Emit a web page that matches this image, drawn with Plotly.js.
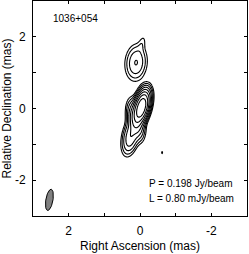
<!DOCTYPE html>
<html><head><meta charset="utf-8">
<script src="https://cdn.plot.ly/plotly-3.0.1.min.js"></script>
<style>html,body{margin:0;padding:0;background:#fff}#c{width:249px;height:254px}</style>
</head><body><div id="c"></div>
<script>
// Source name and map statistics
const sourceName = "1036+054";
const peakFlux = 0.198;      // Jy/beam
const lowestLevel = 0.80;    // mJy/beam
const nLevels = 8;           // contour levels L*2^n, n=0..7

// Gaussian model components (mas, mJy/beam, deg)
const compRA   = [-0.04, 0.12, 0.26, 0.11, -0.05, -0.62];
const compDec  = [ 0.03, -0.32, -0.77, 1.28, 1.80, -1.23];
const compPeak = [198, 22, 12, 6.6, 1.1, 0.85];
const compMaj  = [0.52, 0.60, 0.60, 0.60, 0.40, 0.20];
const compMin  = [0.22, 0.25, 0.26, 0.36, 0.15, 0.08];
const compPA   = [-15, 10, -12, -5, -15, 0];

// Restoring beam
const beamRA = [2.54], beamDec = [-2.55], beamMaj = [0.6], beamMin = [0.2], beamPA = [-10];

// Axis ticks
const tickVals = [-3, -2, -1, 0, 1, 2, 3];
const tickText = ["", "-2", "", "0", "", "2", ""];

// Build grid
const gx = [], gy = [];
for (let i = 0; i <= 300; i++) gx.push(-1.5 + i * 0.01);
for (let j = 0; j <= 420; j++) gy.push(-1.8 + j * 0.01);
const k = 4 * Math.log(2);
const z = gy.map(y => gx.map(x => {
  let s = 0;
  for (let c = 0; c < compRA.length; c++) {
    const pa = compPA[c] * Math.PI / 180;
    const dx = x - compRA[c], dy = y - compDec[c];
    const u = dx * Math.sin(pa) + dy * Math.cos(pa);
    const v = dx * Math.cos(pa) - dy * Math.sin(pa);
    s += compPeak[c] * Math.exp(-k * (u * u / (compMaj[c] ** 2) + v * v / (compMin[c] ** 2)));
  }
  return Math.log2(Math.max(s, 1e-6) / lowestLevel);
}));

// Beam ellipse
const bx = [], by = [];
for (let i = 0; i <= 72; i++) {
  const t = i / 72 * 2 * Math.PI;
  const a = beamMaj[0] / 2, b = beamMin[0] / 2, pa = beamPA[0] * Math.PI / 180;
  const u = a * Math.cos(t), v = b * Math.sin(t);
  bx.push(beamRA[0] + u * Math.sin(pa) + v * Math.cos(pa));
  by.push(beamDec[0] + u * Math.cos(pa) - v * Math.sin(pa));
}

const font = {family: "Liberation Sans, Arial, sans-serif", size: 12, color: "#000"};
const data = [
  {type: "contour", x: gx, y: gy, z: z, showscale: false, hoverinfo: "skip",
   autocontour: false, contours: {start: 0, end: nLevels - 1, size: 1, coloring: "none"},
   line: {color: "#000", width: 1.1, smoothing: 1}},
  {type: "scatter", mode: "lines", x: bx, y: by, fill: "toself", fillcolor: "#808080",
   line: {color: "#000", width: 1}, hoverinfo: "skip"}
];
const axis = {
  showline: true, mirror: "ticks", linecolor: "#000", linewidth: 1,
  ticks: "inside", ticklen: 3, tickcolor: "#000", tickmode: "array",
  tickvals: tickVals, ticktext: tickText, zeroline: false, showgrid: false,
  tickfont: font
};
const layout = {
  width: 249, height: 254, margin: {l: 33, r: 2, t: 1, b: 38},
  paper_bgcolor: "#fff", plot_bgcolor: "#fff", showlegend: false, font: font,
  xaxis: Object.assign({}, axis, {range: [3, -3], ticklabelstandoff: 4,
    title: {text: "Right Ascension (mas)", font: font, standoff: 4}}),
  yaxis: Object.assign({}, axis, {range: [-3, 3], ticklabelstandoff: 4,
    title: {text: "Relative Declination (mas)", font: font, standoff: 2}}),
  annotations: [
    {x: 2.5, y: 2.5, xref: "x", yref: "y", text: sourceName, showarrow: false, xanchor: "left", yanchor: "middle", font: {family: font.family, size: 10}},
    {x: -0.2, y: -2.08, xref: "x", yref: "y", text: "P = " + peakFlux.toFixed(3) + " Jy/beam", showarrow: false, xanchor: "left", yanchor: "middle", font: {family: font.family, size: 10}},
    {x: -0.2, y: -2.5, xref: "x", yref: "y", text: "L = " + lowestLevel.toFixed(2) + " mJy/beam", showarrow: false, xanchor: "left", yanchor: "middle", font: {family: font.family, size: 10}}
  ]
};
Plotly.newPlot("c", data, layout, {staticPlot: true, displayModeBar: false});
</script></body></html>
